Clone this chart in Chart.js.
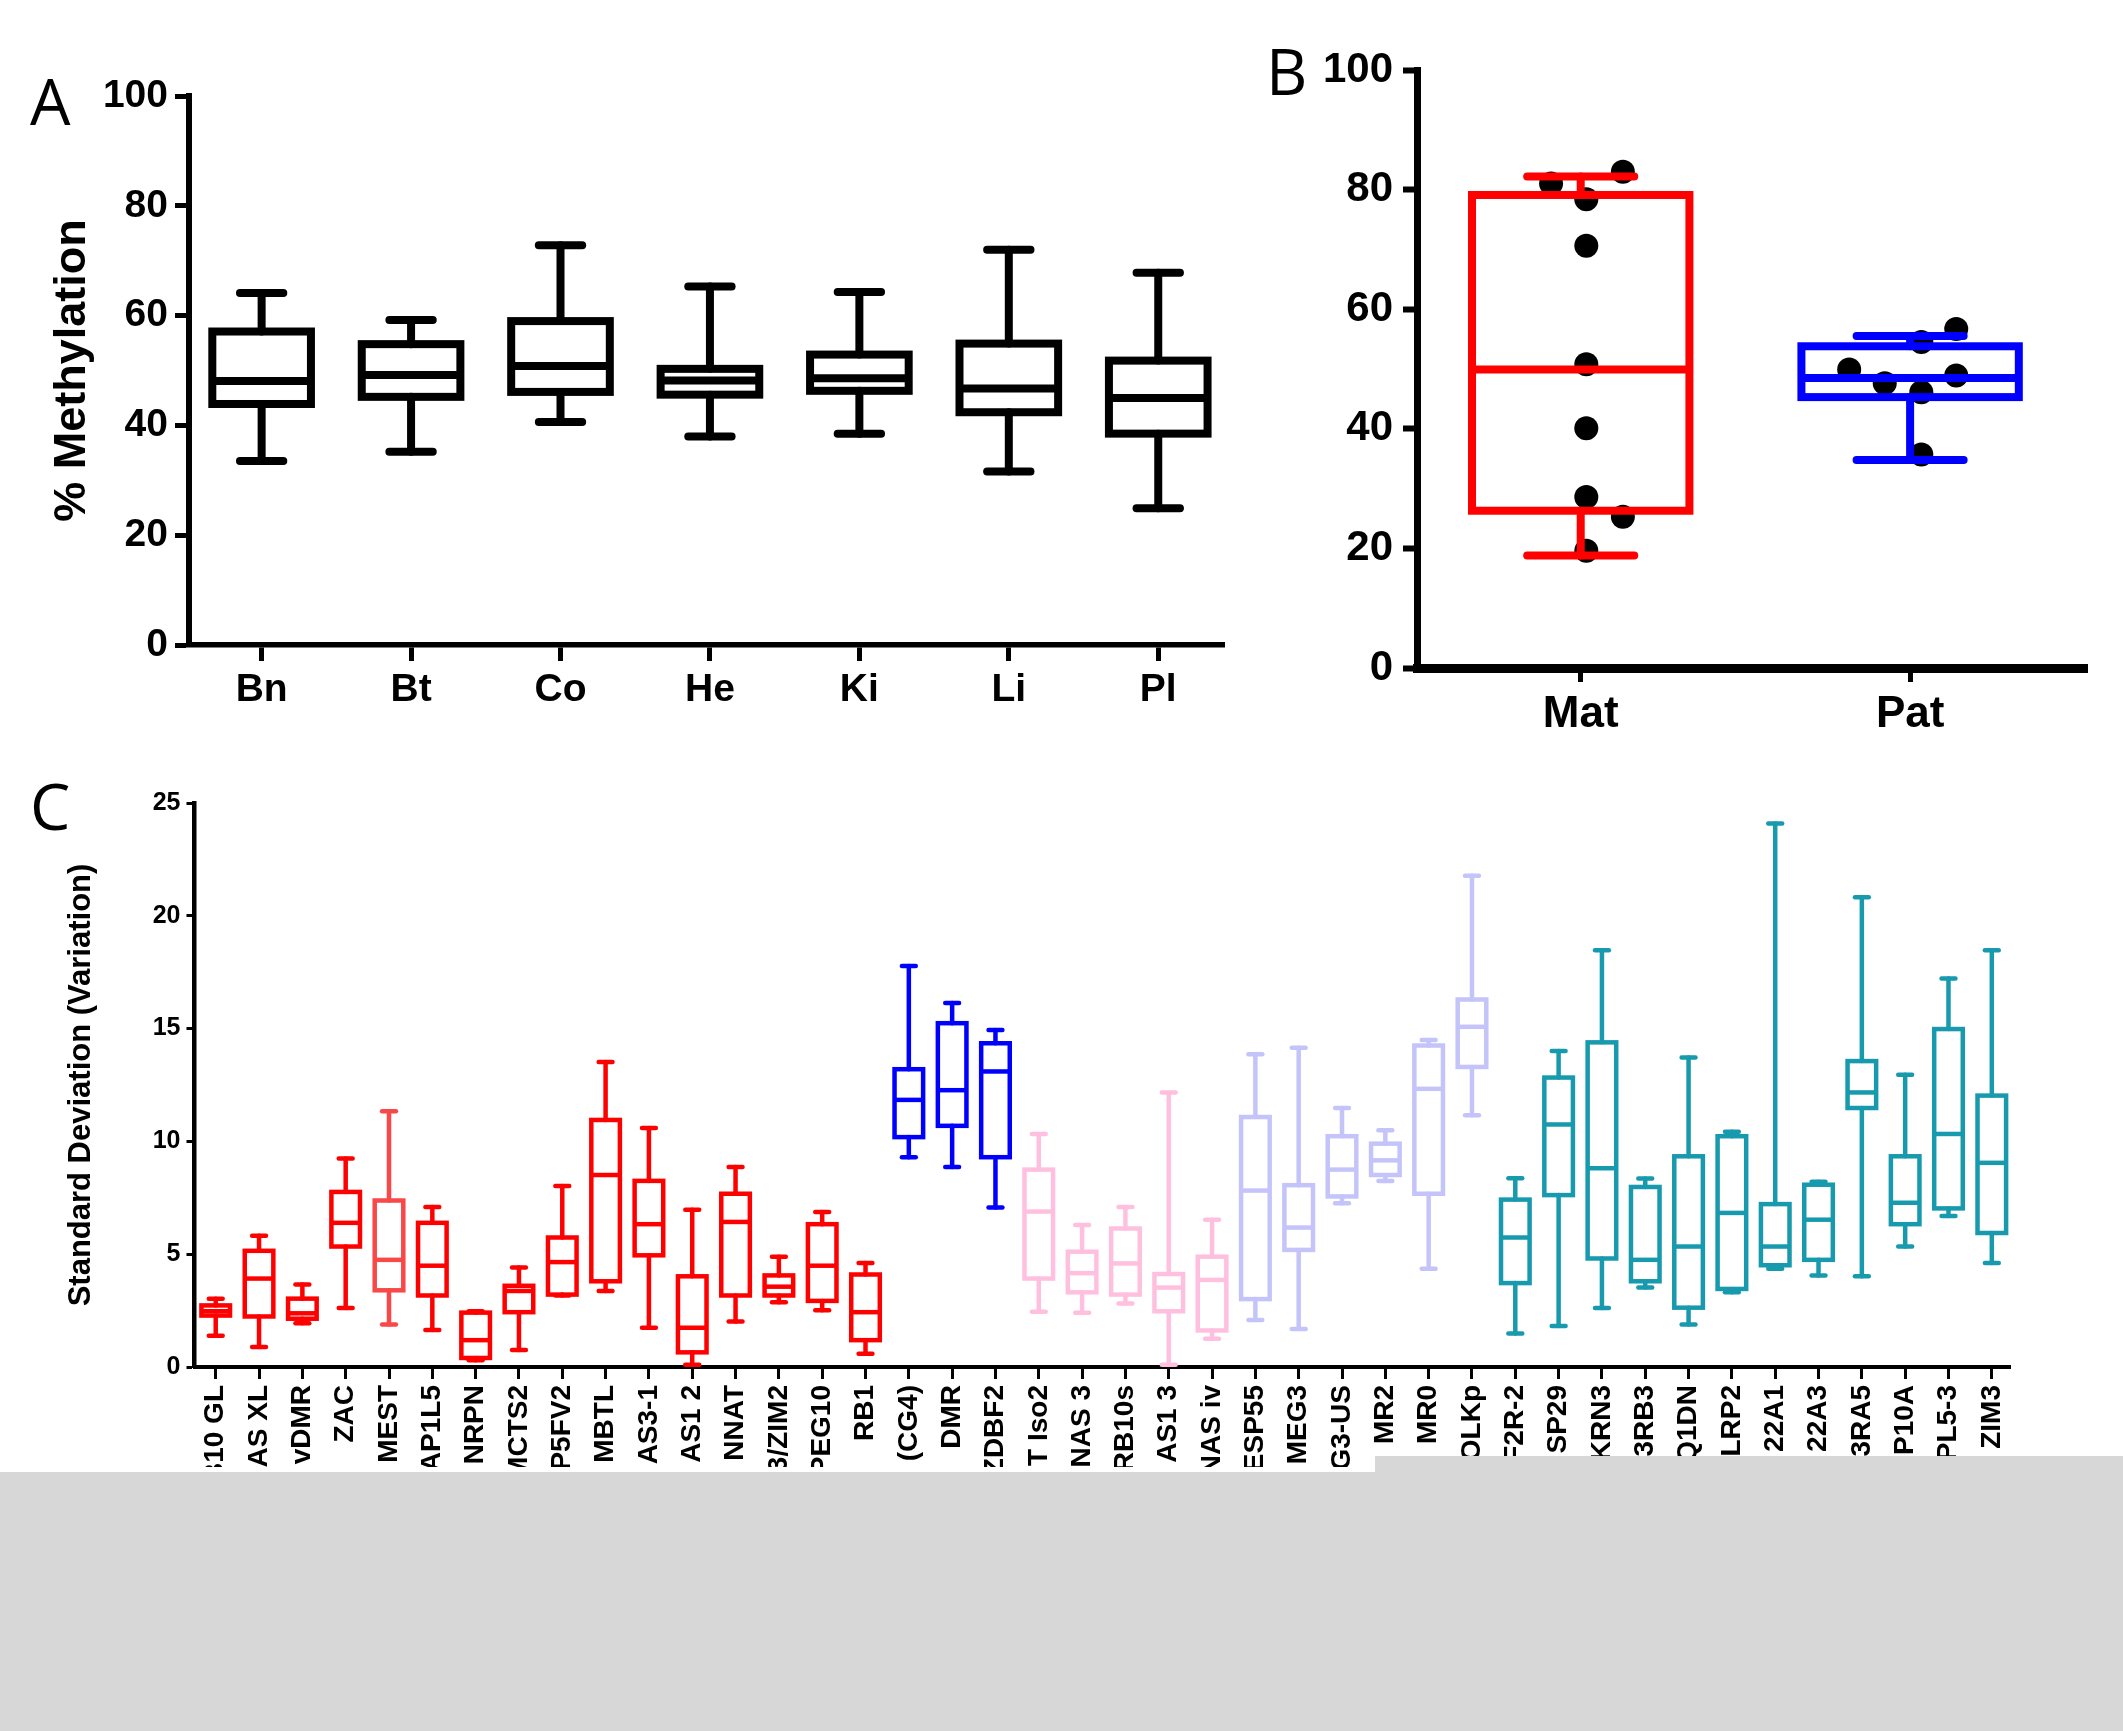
<!DOCTYPE html>
<html><head><meta charset="utf-8">
<script src="https://cdn.jsdelivr.net/npm/chart.js@4.4.1/dist/chart.umd.min.js"></script>
<style>
html,body{margin:0;padding:0;background:#fff;}
#wrap{position:relative;width:2123px;height:1731px;overflow:hidden;background:#fff;}
canvas{position:absolute;left:0;top:0;}
.gray{position:absolute;background:#d7d7d7;}
</style></head><body>
<div id="wrap">
<canvas id="cA" width="2123" height="1731"></canvas>
<canvas id="cB" width="2123" height="1731"></canvas>
<canvas id="cC" width="2123" height="1731"></canvas>
<div class="gray" style="left:0;top:1472px;width:1375px;height:259px"></div>
<div class="gray" style="left:1375px;top:1456px;width:748px;height:275px"></div>
</div>
<script>
// ---------- DATA ----------
// Panel A
const aCats = ['Bn','Bt','Co','He','Ki','Li','Pl'];
const aMin  = [33.5, 35.2, 40.6, 38.0, 38.5, 31.6, 24.9];
const aQ1   = [43.9, 45.2, 46.1, 45.6, 46.3, 42.4, 38.5];
const aMed  = [48.1, 49.2, 50.8, 48.2, 48.6, 46.7, 45.0];
const aQ3   = [57.1, 54.8, 59.0, 50.3, 52.9, 54.9, 51.8];
const aMax  = [64.1, 59.2, 72.8, 65.3, 64.3, 72.0, 67.8];

// Panel B
const bCats = ['Mat','Pat'];
const bMin  = [18.8, 34.8];
const bQ1   = [26.3, 45.3];
const bMed  = [49.9, 48.5];
const bQ3   = [79.1, 53.8];
const bMax  = [82.2, 55.5];
const matValues  = [81.0, 83.0, 78.4, 70.6, 50.8, 40.1, 28.6, 25.3, 19.6];
const matJitter  = [-0.09, 0.128, 0.017, 0.017, 0.017, 0.017, 0.017, 0.128, 0.017];
const patValues  = [49.9, 47.6, 54.5, 56.7, 48.9, 46.1, 35.7];
const patJitter  = [-0.185, -0.077, 0.034, 0.14, 0.14, 0.034, 0.034];

// Panel C
const cLabels = ['B10 GL','AS XL','vDMR','ZAC','MEST','AP1L5','NRPN','MCTS2','P5FV2','MBTL','AS3-1','AS1 2','NNAT','3/ZIM2','PEG10','RB1',
  '(CG4)','DMR','ZDBF2',
  'T Iso2','NAS 3','RB10s','AS1 3','NAS iv',
  'ESP55','MEG3','G3-US','MR2','MR0','OLKp',
  'F2R-2','SP29','KRN3','3RB3','Q1DN','LRP2','22A1','22A3','3RA5','P10A','PL5-3','ZIM3'];
const cMin = [1.39,0.89,1.94,2.61,1.88,1.64,0.30,0.75,3.17,3.37,1.74,0.10,2.02,2.87,2.51,0.59,
  9.30,8.87,7.07, 2.45,2.41,2.81,0.10,1.25, 2.08,1.68,7.26,8.25,4.35,11.16,
  1.48,1.82,2.61,3.52,1.88,3.31,4.35,4.06,4.02,5.34,6.69,4.61];
const cQ1 = [2.28,2.24,2.14,5.34,3.40,3.17,0.40,2.43,3.21,3.80,4.95,0.65,3.17,3.17,2.93,1.19,
  10.19,10.69,9.30, 3.92,3.31,3.21,2.47,1.62, 3.01,5.19,7.56,8.51,7.68,13.3,
  3.72,7.62,4.81,3.80,2.63,3.46,4.51,4.75,11.48,6.33,7.03,5.94];
const cMed = [2.47,3.92,2.38,6.39,4.75,4.49,1.19,3.37,4.65,8.51,6.33,1.74,6.43,3.56,4.49,2.43,
  11.84,12.27,13.1, 6.89,4.16,4.59,3.52,3.86, 7.82,6.18,8.75,9.16,12.33,15.08,
  5.74,10.75,8.81,4.75,5.34,6.83,5.34,6.53,12.17,7.28,10.33,9.05];
const cQ3 = [2.73,5.15,3.03,7.76,7.38,6.39,2.41,3.60,5.74,10.95,8.25,4.02,7.68,4.06,6.33,4.10,
  13.2,15.24,14.35, 8.75,5.11,6.14,4.12,4.89, 11.08,8.06,10.23,9.90,14.25,16.29,
  7.42,12.83,14.39,7.98,9.34,10.23,7.22,8.08,13.56,9.34,14.98,12.03];
const cMax = [3.03,5.82,3.66,9.24,11.34,7.09,2.47,4.41,8.02,13.52,10.59,6.97,8.87,4.89,6.87,4.61,
  17.78,16.13,14.94, 10.33,6.29,7.09,12.17,6.53, 13.86,14.15,11.48,10.49,14.49,21.77,
  8.37,14.01,18.47,8.35,13.72,10.43,24.09,8.21,20.82,12.95,17.22,18.47];

// ---------- STYLE ----------
const FONT = "'Liberation Sans', Arial, sans-serif";
Chart.defaults.font.family = FONT;
Chart.defaults.color = '#000';
const groupStyle = [
  {count:16, color:'#ff0000'},
  {count:3,  color:'#0000ff'},
  {count:5,  color:'#ffc0e0'},
  {count:6,  color:'#c4c4fa'},
  {count:12, color:'#189aae'}
];
const cColors = [];
groupStyle.forEach(g => { for (let k = 0; k < g.count; k++) cColors.push(g.color); });
cColors[4] = '#f84848'; // MEST drawn in a lighter red

function boxPlugin(id, s) {
  return {
    id,
    afterDatasetsDraw(chart) {
      const {ctx, scales: {x, y}} = chart;
      ctx.save();
      ctx.lineCap = 'round';
      ctx.lineJoin = 'miter';
      ctx.lineWidth = s.lineWidth;
      const seg = (x1, y1, x2, y2) => { ctx.beginPath(); ctx.moveTo(x1, y1); ctx.lineTo(x2, y2); ctx.stroke(); };
      s.min.forEach((_, i) => {
        const cx = x.getPixelForValue(i);
        const bl = x.getPixelForValue(i - s.box / 2), br = x.getPixelForValue(i + s.box / 2);
        const cl = x.getPixelForValue(i - s.cap / 2), cr = x.getPixelForValue(i + s.cap / 2);
        const pMin = y.getPixelForValue(s.min[i]), pQ1 = y.getPixelForValue(s.q1[i]);
        const pMed = y.getPixelForValue(s.med[i]), pQ3 = y.getPixelForValue(s.q3[i]);
        const pMax = y.getPixelForValue(s.max[i]);
        ctx.strokeStyle = s.colors[i];
        seg(cx, pQ3, cx, pMax);
        seg(cx, pQ1, cx, pMin);
        seg(cl, pMax, cr, pMax);
        seg(cl, pMin, cr, pMin);
        ctx.lineCap = 'butt';
        ctx.strokeRect(bl, pQ3, br - bl, pQ1 - pQ3);
        seg(bl, pMed, br, pMed);
        ctx.lineCap = 'round';
      });
      ctx.restore();
    }
  };
}
function letterPlugin(id, txt, x, y) {
  return {
    id,
    afterDraw(chart) {
      const ctx = chart.ctx;
      ctx.save();
      ctx.font = "400 64px 'Open Sans', 'Liberation Sans', sans-serif";
      ctx.fillStyle = '#000';
      ctx.textBaseline = 'alphabetic';
      ctx.textAlign = 'left';
      ctx.fillText(txt, x, y);
      ctx.restore();
    }
  };
}
function axisStyle(tickLen, tickW, borderW) {
  return {
    grid: {display: true, drawOnChartArea: false, drawTicks: true, tickLength: tickLen, tickWidth: tickW, tickColor: '#000'},
    border: {display: true, width: borderW, color: '#000'}
  };
}
const common = {
  responsive: false, animation: false, devicePixelRatio: 1,
  plugins: {legend: {display: false}, tooltip: {enabled: false}}
};

// ---------- PANEL A ----------
new Chart(document.getElementById('cA'), {
  type: 'scatter',
  data: {datasets: [{data: []}]},
  options: Object.assign({}, common, {
    layout: {padding: {left: 46, top: 96, right: 899, bottom: 1006}},
    scales: {
      x: Object.assign({
        type: 'linear', min: -0.486, max: 6.44,
        afterBuildTicks: sc => { sc.ticks = aCats.map((_, i) => ({value: i})); },
        afterFit: sc => { sc.height = 80; },
        ticks: {callback: v => aCats[v], font: {size: 39, weight: 'bold'}, color: '#000', padding: 6, autoSkip: false, maxRotation: 0}
      }, axisStyle(16, 5, 5.5)),
      y: Object.assign({
        type: 'linear', min: 0, max: 100,
        afterFit: sc => { sc.width = 143; },
        ticks: {stepSize: 20, font: {size: 39, weight: 'bold'}, color: '#000', padding: 7},
        title: {display: true, text: '% Methylation', font: {size: 45, weight: 'bold'}, color: '#000', padding: 0}
      }, axisStyle(14, 5, 6))
    }
  }),
  plugins: [boxPlugin('boxA', {min: aMin, q1: aQ1, med: aMed, q3: aQ3, max: aMax,
    colors: aCats.map(() => '#000'), lineWidth: 8, box: 0.66, cap: 0.29}),
    letterPlugin('letA', 'A', 30, 125)]
});

// ---------- PANEL B ----------
new Chart(document.getElementById('cB'), {
  type: 'scatter',
  data: {datasets: [
    {data: matValues.map((v, i) => ({x: 0 + matJitter[i], y: v})), pointRadius: 12, backgroundColor: '#000', borderWidth: 0},
    {data: patValues.map((v, i) => ({x: 1 + patJitter[i], y: v})), pointRadius: 12, backgroundColor: '#000', borderWidth: 0}
  ]},
  options: Object.assign({}, common, {
    layout: {padding: {left: 1277, top: 70, right: 36, bottom: 983}},
    scales: {
      x: Object.assign({
        type: 'linear', min: -0.497, max: 1.537,
        afterBuildTicks: sc => { sc.ticks = bCats.map((_, i) => ({value: i})); },
        afterFit: sc => { sc.height = 80; },
        ticks: {callback: v => bCats[v], font: {size: 44, weight: 'bold'}, color: '#000', padding: 6, autoSkip: false, maxRotation: 0}
      }, axisStyle(14, 5, 9)),
      y: Object.assign({
        type: 'linear', min: 0, max: 100,
        afterFit: sc => { sc.width = 140; },
        ticks: {stepSize: 20, font: {size: 42, weight: 'bold'}, color: '#000', padding: 10}
      }, axisStyle(14, 6, 7))
    }
  }),
  plugins: [boxPlugin('boxB', {min: bMin, q1: bQ1, med: bMed, q3: bQ3, max: bMax,
    colors: ['#ff0000', '#0000ff'], lineWidth: 8, box: 0.66, cap: 0.325}),
    letterPlugin('letB', 'B', 1266, 95)]
});

// ---------- PANEL C ----------
new Chart(document.getElementById('cC'), {
  type: 'scatter',
  data: {datasets: [{data: []}]},
  options: Object.assign({}, common, {
    layout: {padding: {left: 63, top: 803, right: 113, bottom: 264}},
    scales: {
      x: Object.assign({
        type: 'linear', min: -0.49, max: 41.42,
        afterBuildTicks: sc => { sc.ticks = cLabels.map((_, i) => ({value: i})); },
        afterFit: sc => { sc.height = 100; },
        ticks: {callback: v => cLabels[v], font: {size: 28, weight: 'bold'}, color: '#000', padding: 6, autoSkip: false, minRotation: 90, maxRotation: 90}
      }, axisStyle(12, 3, 4)),
      y: Object.assign({
        type: 'linear', min: 0, max: 25,
        afterFit: sc => { sc.width = 131.5; },
        ticks: {stepSize: 5, font: {size: 25, weight: 'bold'}, color: '#000', padding: 6},
        title: {display: true, text: 'Standard Deviation (Variation)', font: {size: 31, weight: 'bold'}, color: '#000', padding: 0}
      }, axisStyle(8, 3, 4.5))
    }
  }),
  plugins: [boxPlugin('boxC', {min: cMin, q1: cQ1, med: cMed, q3: cQ3, max: cMax,
    colors: cColors, lineWidth: 4.5, box: 0.66, cap: 0.32}),
    letterPlugin('letC', 'C', 30, 830)]
});
</script>
</body></html>
